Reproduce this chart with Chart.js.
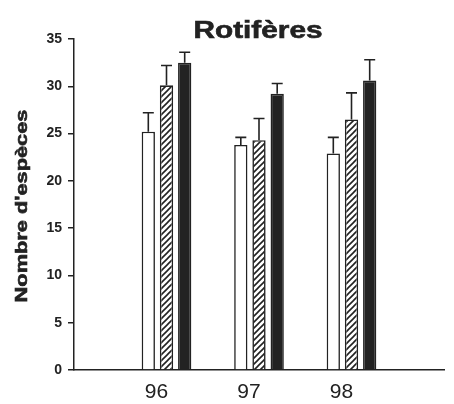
<!DOCTYPE html>
<html>
<head>
<meta charset="utf-8">
<title>Rotifères</title>
<script src="https://cdn.jsdelivr.net/npm/chart.js"></script>
<style>
  body { margin: 0; background: #fff; }
  canvas { display: block; }
</style>
</head>
<body>
<canvas id="myChart" width="454" height="404"></canvas>
<script>
var chartTitle = "Rotifères";
var yTitle = "Nombre d'espèces";
// empty slots at both ends keep the groups off the axes
var years = ["", "96", "97", "98", ""];

var openVals = [null, 25.2, 23.8, 22.9, null];
var openErr = [null, 2.0, 0.8, 1.7, null];
var hatchVals = [null, 30.1, 24.3, 26.5, null];
var hatchErr = [null, 2.1, 2.3, 2.8, null];
var solidVals = [null, 32.5, 29.2, 30.6, null];
var solidErr = [null, 1.1, 1.1, 2.2, null];

var yMax = 35;
var yStep = 5;

var ink = "#222";

function hatch() {
  var c = document.createElement("canvas");
  c.width = 6; c.height = 6;
  var g = c.getContext("2d");
  g.fillStyle = "#fff";
  g.fillRect(0, 0, 6, 6);
  g.strokeStyle = ink;
  g.lineWidth = 1.6;
  g.beginPath();
  g.moveTo(-1, 7); g.lineTo(7, -1);
  g.moveTo(-1, 1); g.lineTo(1, -1);
  g.moveTo(5, 7); g.lineTo(7, 5);
  g.stroke();
  return g.createPattern(c, "repeat");
}

// upper error bars with a small cap
var errorBars = {
  id: "errorBars",
  afterDatasetsDraw: function(chart) {
    var ctx = chart.ctx;
    var y = chart.scales.y;
    ctx.save();
    ctx.strokeStyle = ink;
    ctx.lineWidth = 1.6;
    chart.data.datasets.forEach(function(ds, i) {
      var meta = chart.getDatasetMeta(i);
      meta.data.forEach(function(bar, j) {
        var v = ds.data[j];
        if (v == null) return;
        var top = y.getPixelForValue(v + ds.err[j]);
        ctx.beginPath();
        ctx.moveTo(bar.x, bar.y);
        ctx.lineTo(bar.x, top);
        ctx.moveTo(bar.x - 5.5, top);
        ctx.lineTo(bar.x + 5.5, top);
        ctx.stroke();
      });
    });
    ctx.restore();
  }
};

// title and y title are set a little wide and heavy, like the printed figure
function wideLabel(ctx, text, size, x, y, angle, stretch) {
  ctx.save();
  ctx.fillStyle = ink;
  ctx.strokeStyle = ink;
  ctx.lineWidth = 0.6;
  ctx.textAlign = "center";
  ctx.textBaseline = "alphabetic";
  ctx.font = "bold " + size + 'px "Liberation Sans", Arial, sans-serif';
  ctx.translate(x, y);
  ctx.rotate(angle);
  ctx.scale(stretch, 1);
  ctx.fillText(text, 0, 0);
  ctx.strokeText(text, 0, 0);
  ctx.restore();
}

var wideText = {
  id: "wideText",
  afterDraw: function(chart) {
    var area = chart.chartArea;
    wideLabel(chart.ctx, chartTitle, 24, (area.left + area.right) / 2 - 1, 37.5, 0, 1.24);
    wideLabel(chart.ctx, yTitle, 16.5, 27, 206, -Math.PI / 2, 1.32);
  }
};

var ctx = document.getElementById("myChart");
var myChart = new Chart(ctx, {
  type: "bar",
  data: {
    labels: years,
    datasets: [
      {
        data: openVals, err: openErr,
        backgroundColor: "#fff", borderColor: ink, borderWidth: 1.6
      },
      {
        data: hatchVals, err: hatchErr,
        backgroundColor: hatch(), borderColor: ink, borderWidth: 1.6
      },
      {
        data: solidVals, err: solidErr,
        backgroundColor: ink, borderColor: ink, borderWidth: 1.6
      }
    ]
  },
  options: {
    responsive: false,
    animation: false,
    layout: { padding: { top: 39, right: 1, left: 0, bottom: 0 } },
    categoryPercentage: 0.59,
    barPercentage: 0.73,
    plugins: {
      legend: { display: false },
      title: { display: false },
      tooltip: { enabled: false }
    },
    scales: {
      x: {
        offset: false,
        grid: { display: false, drawTicks: false },
        border: { display: true, color: ink, width: 1.5 },
        ticks: {
          color: ink,
          font: { family: '"Liberation Sans", Arial, sans-serif', size: 21 },
          padding: 10,
          labelOffset: -10,
          autoSkip: false,
          maxRotation: 0
        },
        afterFit: function(scale) { scale.height = 34; }
      },
      y: {
        min: 0,
        max: yMax,
        grid: { drawOnChartArea: false, tickLength: 6, color: ink, lineWidth: 1.5 },
        border: { display: true, color: ink, width: 1.5 },
        ticks: {
          stepSize: yStep,
          color: ink,
          padding: 6,
          font: { family: '"Liberation Sans", Arial, sans-serif', size: 14, weight: "bold" }
        },
        afterFit: function(scale) { scale.width = 74; }
      }
    }
  },
  plugins: [errorBars, wideText]
});
</script>
</body>
</html>
